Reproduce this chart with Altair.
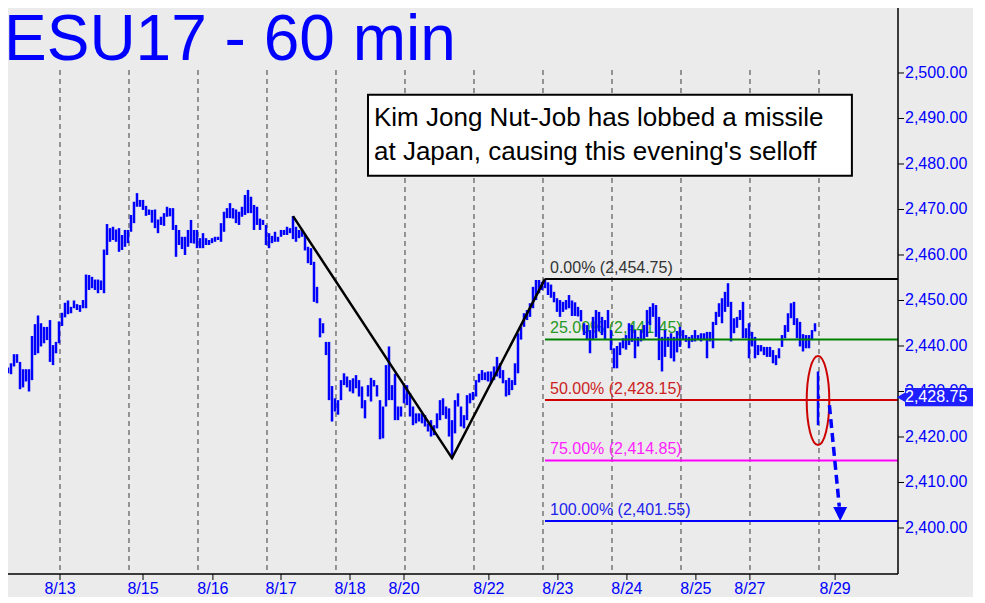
import altair as alt
import pandas as pd

# ---------------- data ----------------
high = [
    2436.3, 2435.5, 2435.3, 2436.2, 2438.2, 2438.2, 2436.5, 2434.9, 2434.9, 2434.9,
    2442.2, 2444.8, 2446.7, 2445.0, 2444.2, 2444.2, 2445.7, 2440.2, 2440.9, 2445.4,
    # session 8/13
    2447.3, 2449.5, 2450.0, 2448.6, 2450.0, 2449.2, 2449.0, 2450.1, 2455.7, 2455.6,
    2455.2, 2454.6, 2454.6, 2454.4, 2461.2, 2466.8, 2465.9, 2466.2, 2465.6, 2465.9,
    2464.4, 2465.5, 2465.5,
    # session
    2468.8, 2471.7, 2473.6, 2472.1, 2472.1, 2470.8, 2470.0, 2469.9, 2470.0, 2467.8,
    2468.4, 2469.2, 2470.6, 2470.3, 2470.3, 2466.6, 2465.5, 2464.0, 2464.0, 2465.5,
    2467.7, 2465.5, 2465.5,
    # session
    2463.7, 2464.8, 2463.7, 2463.3, 2463.7, 2464.0, 2464.0, 2467.0, 2469.5, 2470.3,
    2471.4, 2470.3, 2470.0, 2469.5, 2470.6, 2473.2, 2474.3, 2472.8, 2471.0, 2470.6,
    2468.0, 2467.7, 2466.6,
    # session
    2464.8, 2464.2, 2465.1, 2464.0, 2465.5, 2465.5, 2466.2, 2465.9, 2468.55, 2466.2,
    2465.5, 2465.6, 2464.5, 2461.8, 2461.5, 2458.5, 2453.0, 2446.1, 2445.0, 2440.9,
    2440.9, 2431.2, 2428.5,
    # session
    2428.1, 2432.5, 2434.0, 2433.3, 2432.5, 2432.9, 2433.6, 2432.5, 2431.1, 2428.1,
    2431.4, 2433.0, 2432.5, 2431.4, 2428.1, 2426.7, 2435.8, 2439.9, 2431.4, 2433.9,
    2426.7, 2426.7, 2431.8,
    # session
    2431.4, 2429.6, 2426.7, 2425.2, 2425.2, 2425.2, 2424.8, 2423.0, 2423.7, 2422.6,
    2425.2, 2428.1, 2428.5, 2426.7, 2426.3, 2423.7, 2428.1, 2429.6, 2426.7, 2424.8,
    2429.2, 2429.6, 2429.9,
    # session
    2432.5, 2433.9, 2434.7, 2434.2, 2434.4, 2434.4, 2435.5, 2437.6, 2436.2, 2434.7,
    2432.5, 2433.0, 2432.5, 2436.2, 2442.8, 2444.2, 2447.2, 2447.9, 2449.4, 2453.0,
    2454.5, 2454.5, 2454.1,
    # session
    2454.75, 2454.0, 2453.5, 2451.9, 2450.5, 2450.1, 2449.7, 2450.1, 2451.2, 2450.0,
    2449.6, 2448.6, 2447.9, 2445.0, 2444.6, 2443.5, 2446.4, 2447.9, 2447.5, 2446.4,
    2445.7, 2447.9, 2443.5,
    # session
    2439.5, 2440.0, 2440.8, 2441.7, 2442.4, 2445.0, 2444.6, 2443.5, 2442.0, 2443.5,
    2444.6, 2447.9, 2448.6, 2449.4, 2449.0, 2446.4, 2442.0, 2443.5, 2442.0, 2442.8,
    2442.0, 2443.3, 2444.2,
    # session
    2443.5, 2442.4, 2442.0, 2442.4, 2443.5, 2442.4, 2442.8, 2442.8, 2443.1, 2443.1,
    2445.3, 2447.5, 2449.4, 2450.5, 2451.9, 2453.8, 2449.7, 2446.1, 2446.4, 2447.9,
    2449.7, 2443.9, 2445.0,
    # session
    2443.1, 2442.0, 2440.2, 2440.2, 2439.8, 2439.8, 2439.8, 2439.1, 2438.0, 2439.5,
    2442.4, 2444.6, 2447.2, 2449.4, 2449.7, 2446.1, 2445.3, 2442.6, 2442.4, 2442.4,
    2443.5, 2445.0, 2434.4,
]
low = [
    2434.4, 2433.1, 2434.0, 2433.8, 2435.5, 2436.3, 2430.5, 2430.9, 2432.2, 2430.0,
    2432.5, 2438.0, 2438.4, 2439.9, 2440.6, 2441.3, 2436.5, 2435.8, 2438.4, 2440.6,
    # session 8/13
    2444.4, 2446.3, 2447.0, 2447.2, 2448.3, 2447.9, 2447.5, 2448.3, 2448.3, 2452.3,
    2452.7, 2452.3, 2451.6, 2452.3, 2451.6, 2460.0, 2462.9, 2463.3, 2462.9, 2460.7,
    2461.1, 2461.8, 2462.6,
    # session
    2465.1, 2467.0, 2470.6, 2470.6, 2469.9, 2468.6, 2468.8, 2467.1, 2465.9, 2464.8,
    2466.6, 2466.4, 2468.4, 2468.5, 2465.5, 2459.6, 2462.2, 2461.3, 2460.0, 2461.8,
    2462.6, 2462.5, 2461.5,
    # session
    2461.5, 2461.5, 2462.2, 2462.2, 2462.6, 2462.9, 2463.3, 2462.9, 2465.1, 2468.1,
    2468.1, 2468.0, 2467.0, 2466.6, 2468.4, 2468.8, 2469.2, 2469.2, 2465.5, 2466.6,
    2465.5, 2466.6, 2462.2,
    # session
    2461.5, 2462.6, 2462.9, 2462.9, 2464.0, 2464.4, 2464.4, 2464.8, 2463.5, 2462.9,
    2463.7, 2464.0, 2461.0, 2458.2, 2457.8, 2449.7, 2449.4, 2441.9, 2442.8, 2438.0,
    2428.1, 2423.4, 2425.6,
    # session
    2424.9, 2428.1, 2431.4, 2430.9, 2430.0, 2429.6, 2430.7, 2428.9, 2426.3, 2424.1,
    2428.9, 2427.8, 2431.1, 2428.9, 2419.5, 2419.7, 2426.7, 2428.1, 2428.1, 2423.7,
    2423.7, 2424.5, 2427.4,
    # session
    2427.0, 2424.5, 2422.6, 2423.0, 2423.4, 2423.0, 2422.3, 2421.2, 2420.1, 2420.4,
    2421.9, 2423.7, 2424.8, 2424.0, 2420.1, 2415.35, 2420.8, 2426.7, 2422.3, 2421.9,
    2423.7, 2427.4, 2428.1,
    # session
    2428.9, 2432.0, 2432.5, 2432.5, 2432.2, 2431.8, 2432.5, 2433.3, 2432.9, 2431.8,
    2428.9, 2429.2, 2430.3, 2431.4, 2434.0, 2441.4, 2444.2, 2445.7, 2446.4, 2448.3,
    2450.1, 2451.6, 2452.3,
    # session
    2452.7, 2451.2, 2450.6, 2449.6, 2447.5, 2446.4, 2447.5, 2448.0, 2448.3, 2446.6,
    2446.6, 2446.5, 2445.4, 2442.4, 2441.3, 2438.4, 2441.3, 2441.7, 2443.2, 2442.4,
    2441.4, 2443.9, 2439.1,
    # session
    2435.1, 2435.1, 2438.0, 2439.5, 2439.2, 2440.2, 2440.9, 2437.3, 2439.9, 2441.0,
    2441.3, 2442.0, 2444.6, 2446.4, 2442.0, 2436.9, 2434.4, 2437.6, 2439.8, 2437.3,
    2436.6, 2438.6, 2439.8,
    # session
    2441.4, 2440.9, 2439.5, 2440.9, 2441.0, 2441.3, 2441.0, 2441.3, 2437.3, 2441.0,
    2439.5, 2444.6, 2446.4, 2445.0, 2447.5, 2448.6, 2441.0, 2442.8, 2444.0, 2445.7,
    2441.7, 2441.7, 2437.3,
    # session
    2439.9, 2437.3, 2438.0, 2438.8, 2438.0, 2437.6, 2437.6, 2436.2, 2435.8, 2437.3,
    2439.8, 2441.7, 2443.1, 2446.1, 2444.6, 2441.7, 2439.9, 2438.8, 2439.5, 2439.5,
    2441.3, 2443.2, 2422.6,
]
last_close = 2428.75

grid_pos = [19.33, 42.33, 65.33, 88.33, 111.33, 134.33, 157.33, 180.33,
            203.33, 226.33, 249.33, 272.33]
date_labels = ["8/13", "8/15", "8/16", "8/17", "8/18", "8/20", "8/22", "8/23",
               "8/24", "8/25", "8/27", "8/29"]
date_pos = [19.33, 47.0, 70.3, 93.0, 116.0, 134.0, 162.3, 185.3, 208.3, 231.3,
            249.3, 277.7]

fib_levels = [2454.75, 2441.45, 2428.15, 2414.85, 2401.55]
fib_text = ["0.00% (2,454.75)", "25.00% (2,441.45)", "50.00% (2,428.15)",
            "75.00% (2,414.85)", "100.00% (2,401.55)"]
fib_line_colors = ["#000000", "#008000", "#CC0000", "#FF00FF", "#0000FF"]
fib_text_colors = ["#333333", "#229922", "#CC2222", "#FF22FF", "#2222EE"]
fib_start = 181

swing_x = [97, 150, 181]
swing_y = [2468.55, 2415.35, 2454.75]

y_ticks = [2400, 2410, 2420, 2430, 2440, 2450, 2460, 2470, 2480, 2490, 2500]
y_tick_labels = ["2,400.00", "2,410.00", "2,420.00", "2,430.00", "2,440.00", "2,450.00",
                 "2,460.00", "2,470.00", "2,480.00", "2,490.00", "2,500.00"]

title_text = "ESU17 - 60 min"
note_lines = ["Kim Jong Nut-Job has lobbed a missile",
              "at Japan, causing this evening's selloff"]
note_box = {"x1": 122.0, "x2": 283.3, "y1": 2495.2, "y2": 2477.4}
note_x = 124.0
note_y = [2488.35, 2480.88]

ellipse_center = (272, 2428.0)
arrow_from = (275.8, 2427.0)
arrow_to = (279.1, 2404.7)
arrow_head = (279.4, 2403.1)

# ---------------- scales ----------------
X_MIN, X_MAX = -0.667, 298.667
Y_MIN, Y_MAX = 2389.89, 2516.04
xs = alt.Scale(domain=[X_MIN, X_MAX], range=[-8, 890], nice=False, zero=False)
ys = alt.Scale(domain=[Y_MIN, Y_MAX], range=[566, -8], nice=False, zero=False)
FONT = "Liberation Sans"
BLUE = "#0000FF"

bars_df = pd.DataFrame({"bar": list(range(len(high))), "high": high, "low": low})

bars = alt.Chart(bars_df).mark_rule(color=BLUE, strokeWidth=2.5).encode(
    x=alt.X("bar:Q", scale=xs, axis=None),
    y=alt.Y("low:Q", scale=ys, axis=None),
    y2="high:Q",
)

close_df = pd.DataFrame({"a": [len(high) - 1], "b": [len(high) - 1 + 0.7], "c": [last_close]})
close_tick = alt.Chart(close_df).mark_rule(color=BLUE, strokeWidth=2).encode(
    x=alt.X("a:Q", scale=xs, axis=None), x2="b:Q",
    y=alt.Y("c:Q", scale=ys, axis=None))

grid = alt.Chart(pd.DataFrame({"g": grid_pos})).mark_rule(
    color="#3C3C3C", strokeWidth=1, strokeDash=[5, 4]).encode(
    x=alt.X("g:Q", scale=xs, axis=None), y=alt.value(62), y2=alt.value(566))

fib_df = pd.DataFrame({"lvl": fib_levels, "txt": fib_text, "lc": fib_line_colors,
                       "tc": fib_text_colors, "x1": [fib_start] * 5, "x2": [X_MAX] * 5})
fib_lines = alt.Chart(fib_df).mark_rule(strokeWidth=2).encode(
    x=alt.X("x1:Q", scale=xs, axis=None), x2="x2:Q",
    y=alt.Y("lvl:Q", scale=ys, axis=None),
    color=alt.Color("lc:N", scale=None))
fib_labels = alt.Chart(fib_df).mark_text(
    align="left", baseline="alphabetic", dx=5, dy=-6, font=FONT, fontSize=16).encode(
    x=alt.X("x1:Q", scale=xs, axis=None),
    y=alt.Y("lvl:Q", scale=ys, axis=None),
    text="txt:N", color=alt.Color("tc:N", scale=None))

swing = alt.Chart(pd.DataFrame({"sx": swing_x, "sy": swing_y, "o": [0, 1, 2]})).mark_line(
    color="black", strokeWidth=2.5).encode(
    x=alt.X("sx:Q", scale=xs, axis=None),
    y=alt.Y("sy:Q", scale=ys, axis=None), order="o:Q")

ellipse = alt.Chart(pd.DataFrame({"ex": [ellipse_center[0]], "ey": [ellipse_center[1]]})).mark_point(
    shape="M 0 -1 A 0.254 1 0 1 1 0 1 A 0.254 1 0 1 1 0 -1 Z",
    size=7921, filled=False, stroke="#CC0000", strokeWidth=2, opacity=1).encode(
    x=alt.X("ex:Q", scale=xs, axis=None), y=alt.Y("ey:Q", scale=ys, axis=None))

arrow = alt.Chart(pd.DataFrame({"ax": [arrow_from[0]], "ax2": [arrow_to[0]],
                                "ay": [arrow_from[1]], "ay2": [arrow_to[1]]})).mark_rule(
    color=BLUE, strokeWidth=3.5, strokeDash=[9, 5]).encode(
    x=alt.X("ax:Q", scale=xs, axis=None), x2="ax2:Q",
    y=alt.Y("ay:Q", scale=ys, axis=None), y2="ay2:Q")
arrowhead = alt.Chart(pd.DataFrame({"hx": [arrow_head[0]], "hy": [arrow_head[1]]})).mark_point(
    shape="M -1 -1 L 1 -1 L 0 1 Z", size=196, filled=True, color=BLUE, opacity=1).encode(
    x=alt.X("hx:Q", scale=xs, axis=None), y=alt.Y("hy:Q", scale=ys, axis=None))

box = alt.Chart(pd.DataFrame([note_box])).mark_rect(
    fill="white", stroke="black", strokeWidth=2).encode(
    x=alt.X("x1:Q", scale=xs, axis=None), x2="x2:Q",
    y=alt.Y("y1:Q", scale=ys, axis=None), y2="y2:Q")
note = alt.Chart(pd.DataFrame({"t": note_lines, "nx": [note_x] * 2, "ny": note_y})).mark_text(
    align="left", baseline="alphabetic", font=FONT, fontSize=26, color="black").encode(
    x=alt.X("nx:Q", scale=xs, axis=None), y=alt.Y("ny:Q", scale=ys, axis=None), text="t:N")

title = alt.Chart(pd.DataFrame({"t": [title_text]})).mark_text(
    align="left", baseline="alphabetic", font=FONT, fontSize=64, color=BLUE).encode(
    x=alt.value(-4), y=alt.value(52), text="t:N")

# x axis (drawn by hand)
xaxis_line = alt.Chart(pd.DataFrame({"a": [X_MIN], "b": [X_MAX]})).mark_rule(
    color="black", strokeWidth=1.5).encode(
    x=alt.X("a:Q", scale=xs, axis=None), x2="b:Q", y=alt.value(566))
date_df = pd.DataFrame({"d": date_labels, "p": date_pos})
xticks = alt.Chart(date_df).mark_rule(color="black", strokeWidth=1).encode(
    x=alt.X("p:Q", scale=xs, axis=None), y=alt.value(566), y2=alt.value(572))
xlabels = alt.Chart(date_df).mark_text(
    align="center", baseline="alphabetic", font=FONT, fontSize=16, color=BLUE).encode(
    x=alt.X("p:Q", scale=xs, axis=None), y=alt.value(586), text="d:N")

# y axis on the right (drawn by hand)
yaxis_line = alt.Chart(pd.DataFrame({"a": [Y_MIN], "b": [Y_MAX]})).mark_rule(
    color="black", strokeWidth=1.5).encode(
    x=alt.value(890), y=alt.Y("a:Q", scale=ys, axis=None), y2="b:Q")
ytick_df = pd.DataFrame({"v": y_ticks, "lbl": y_tick_labels})
yticks = alt.Chart(ytick_df).mark_rule(color="black", strokeWidth=1).encode(
    x=alt.value(890), x2=alt.value(896), y=alt.Y("v:Q", scale=ys, axis=None))
ylabels = alt.Chart(ytick_df).mark_text(
    align="left", baseline="middle", font=FONT, fontSize=16, color=BLUE).encode(
    x=alt.value(897), y=alt.Y("v:Q", scale=ys, axis=None), text="lbl:N")

tag_df = pd.DataFrame({"top": [last_close + 2.0], "bot": [last_close - 2.0],
                       "c": [last_close], "lbl": ["2,428.75"]})
tag_rect = alt.Chart(tag_df).mark_rect(color="#1E1EFF").encode(
    x=alt.value(897), x2=alt.value(965),
    y=alt.Y("top:Q", scale=ys, axis=None), y2="bot:Q")
tag_ptr = alt.Chart(tag_df).mark_point(shape="triangle-left", size=90, filled=True,
                                        color="#1E1EFF", opacity=1).encode(
    x=alt.value(893), y=alt.Y("c:Q", scale=ys, axis=None))
tag_txt = alt.Chart(tag_df).mark_text(align="left", baseline="middle", font=FONT,
                                       fontSize=16, color="white").encode(
    x=alt.value(897), y=alt.Y("c:Q", scale=ys, axis=None), text="lbl:N")

chart = alt.layer(
    grid, fib_labels, bars, close_tick, fib_lines, swing, ellipse, arrow, arrowhead,
    box, note, title, xaxis_line, xticks, xlabels, yaxis_line, yticks, ylabels,
    tag_rect, tag_ptr, tag_txt,
).properties(
    width=890, height=566, background="#EBEBEB",
    padding={"left": 0, "top": 0, "right": 75, "bottom": 23},
    autosize=alt.AutoSizeParams(type="none"),
).configure_view(stroke=None)

chart.save("out.html", embed_options={"renderer": "svg", "actions": False})
